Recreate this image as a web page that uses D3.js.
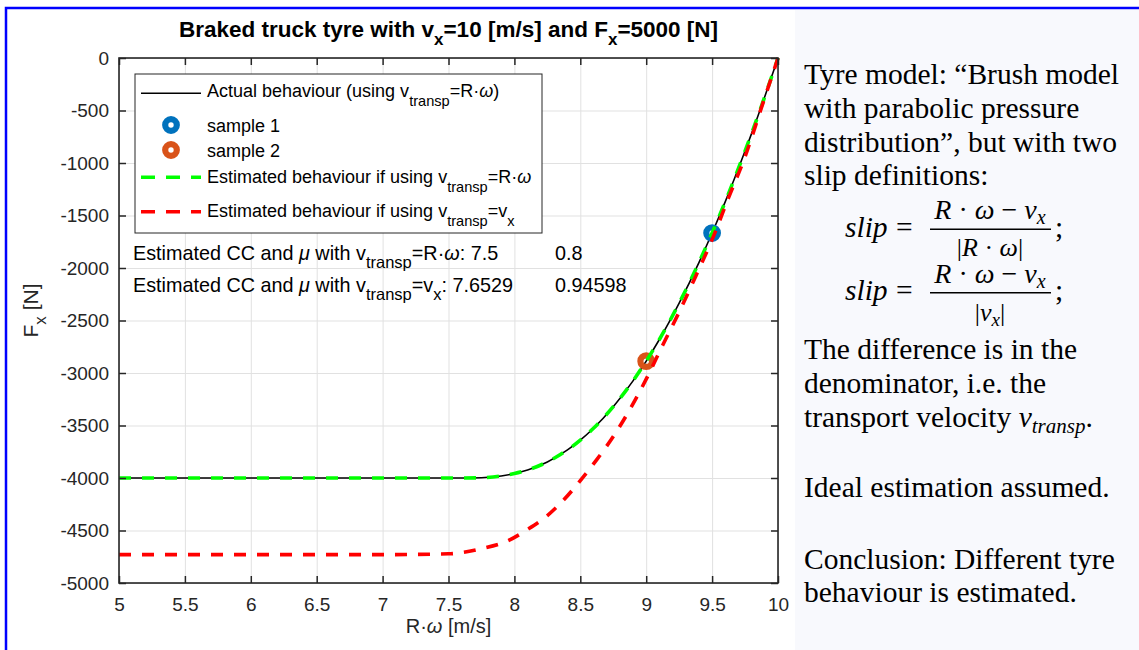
<!DOCTYPE html>
<html>
<head>
<meta charset="utf-8">
<script src="https://cdn.jsdelivr.net/npm/d3@7"></script>
<style>
  body { margin: 0; background: #fff; }
  svg { display: block; }
</style>
</head>
<body>
<div id="chart"></div>
<script>
// ---- data ----
const xTicks = [5, 5.5, 6, 6.5, 7, 7.5, 8, 8.5, 9, 9.5, 10];
const yTicks = [0, -500, -1000, -1500, -2000, -2500, -3000, -3500, -4000, -4500, -5000];

// actual behaviour (and estimate with v_transp = R*omega, which coincides)
const rwActual = [5, 6, 7, 7.5, 7.6, 7.75, 7.9, 8, 8.1, 8.25, 8.4, 8.5, 8.6, 8.75, 8.9, 9, 9.1, 9.25, 9.4, 9.5, 9.6, 9.75, 9.8, 9.9, 10];
const fxActual = [-4000, -4000, -4000, -4000, -4000, -3997, -3981, -3958, -3924, -3847, -3735, -3639, -3526, -3321, -3075, -2887, -2681, -2335, -1948, -1667, -1368, -886, -718, -367, 0];
const fxEstRw  = [-4000, -4000, -4000, -4000, -4000, -3997, -3981, -3958, -3924, -3847, -3735, -3639, -3526, -3321, -3075, -2887, -2681, -2335, -1948, -1667, -1368, -886, -718, -367, 0];

// estimate with v_transp = v_x
const rwEstVx = [5, 6, 7, 7.5, 7.75, 7.95, 8.1, 8.25, 8.375, 8.5, 8.625, 8.75, 8.875, 9, 9.125, 9.25, 9.375, 9.5, 9.625, 9.75, 9.875, 10];
const fxEstVx = [-4730, -4730, -4730, -4722, -4672, -4598, -4490, -4358, -4208, -4025, -3825, -3605, -3350, -3059, -2735, -2420, -2080, -1730, -1330, -940, -470, 0];

const samplesRw = [9.5, 9];
const samplesFx = [-1667, -2887];
const sampleNames = ["sample 1", "sample 2"];
const sampleColors = ["#0072BD", "#D95319"];

const estCC = ["7.5", "7.6529"];
const estMu = ["0.8", "0.94598"];

const W = 1139, H = 650;
const margin = { left: 119, top: 58, right: 778, bottom: 583 };
const sans = "'Liberation Sans', Arial, sans-serif";
const serif = "'Liberation Serif', 'Times New Roman', serif";
const axisColor = "#262626";

const svg = d3.select("#chart").append("svg")
  .attr("width", W)
  .attr("height", H)
  .attr("viewBox", `0 0 ${W} ${H}`)
  .style("background", "#fff");

// write text made of pieces, some of them subscripts / italic
function rich(sel, parts, subSize, subShift) {
  let down = false;
  parts.forEach(p => {
    const piece = typeof p === "string" ? { t: p } : p;
    const ts = sel.append("tspan").text(piece.t);
    if (piece.sub && !down) { ts.attr("dy", subShift); down = true; }
    else if (!piece.sub && down) { ts.attr("dy", -subShift); down = false; }
    if (piece.sub) ts.attr("font-size", subSize);
    if (piece.it) ts.attr("font-style", "italic");
  });
  return sel;
}

// ---- right hand panel ----
svg.append("rect")
  .attr("x", 795).attr("y", 10)
  .attr("width", W - 795).attr("height", H - 10)
  .attr("fill", "#f8f9fd");

// blue frame
svg.append("path")
  .attr("d", `M6,${H} L6,8 L${W},8`)
  .attr("fill", "none")
  .attr("stroke", "#0000ff")
  .attr("stroke-width", 2.5);

// ---- scales ----
const x = d3.scaleLinear().domain([5, 10]).range([margin.left, margin.right]);
const y = d3.scaleLinear().domain([-5000, 0]).range([margin.bottom, margin.top]);
const plotW = margin.right - margin.left;
const plotH = margin.bottom - margin.top;

// grid
const grid = svg.append("g");
grid.append("g")
  .attr("transform", `translate(0,${margin.bottom})`)
  .call(d3.axisBottom(x).tickValues(xTicks).tickSize(-plotH).tickFormat(""))
  .call(g => g.select(".domain").remove())
  .call(g => g.selectAll("line").attr("stroke", "#e1e1e1"));
grid.append("g")
  .attr("transform", `translate(${margin.left},0)`)
  .call(d3.axisLeft(y).tickValues(yTicks).tickSize(-plotW).tickFormat(""))
  .call(g => g.select(".domain").remove())
  .call(g => g.selectAll("line").attr("stroke", "#e1e1e1"));

// ---- curves ----
const line = d3.line()
  .x(d => x(d[0]))
  .y(d => y(d[1]))
  .curve(d3.curveMonotoneX);

const plot = svg.append("g");

plot.append("path")
  .attr("d", line(d3.zip(rwActual, fxActual)))
  .attr("fill", "none")
  .attr("stroke", "#000")
  .attr("stroke-width", 1.6);

plot.selectAll("circle.sample")
  .data(d3.zip(samplesRw, samplesFx, sampleColors))
  .enter()
  .append("circle")
  .attr("class", "sample")
  .attr("cx", d => x(d[0]))
  .attr("cy", d => y(d[1]))
  .attr("r", 5.8)
  .attr("fill", "none")
  .attr("stroke", d => d[2])
  .attr("stroke-width", 6.2);

plot.append("path")
  .attr("d", line(d3.zip(rwActual, fxEstRw)))
  .attr("fill", "none")
  .attr("stroke", "#00ff00")
  .attr("stroke-width", 3.6)
  .attr("stroke-dasharray", "12,11");

plot.append("path")
  .attr("d", line(d3.zip(rwEstVx, fxEstVx)))
  .attr("fill", "none")
  .attr("stroke", "#ff0000")
  .attr("stroke-width", 3.6)
  .attr("stroke-dasharray", "12,11");

// ---- axes ----
const tickLen = 7;
const styleAxis = g => {
  g.select(".domain").remove();
  g.selectAll("line").attr("stroke", axisColor).attr("stroke-width", 1.5);
  g.selectAll("text").attr("fill", axisColor).attr("font-size", 19).attr("font-family", sans);
};
const plainNum = d => String(d);

svg.append("g")
  .attr("transform", `translate(0,${margin.bottom})`)
  .call(d3.axisBottom(x).tickValues(xTicks).tickSize(-tickLen).tickPadding(15).tickFormat(plainNum))
  .call(styleAxis);
svg.append("g")
  .attr("transform", `translate(0,${margin.top})`)
  .call(d3.axisTop(x).tickValues(xTicks).tickSize(-tickLen).tickFormat(""))
  .call(styleAxis);
svg.append("g")
  .attr("transform", `translate(${margin.left},0)`)
  .call(d3.axisLeft(y).tickValues(yTicks).tickSize(-tickLen).tickPadding(10).tickFormat(plainNum))
  .call(styleAxis);
svg.append("g")
  .attr("transform", `translate(${margin.right},0)`)
  .call(d3.axisRight(y).tickValues(yTicks).tickSize(-tickLen).tickFormat(""))
  .call(styleAxis);

svg.append("rect")
  .attr("x", margin.left).attr("y", margin.top)
  .attr("width", plotW).attr("height", plotH)
  .attr("fill", "none")
  .attr("stroke", axisColor)
  .attr("stroke-width", 1.6);

// title
rich(svg.append("text")
  .attr("x", (margin.left + margin.right) / 2)
  .attr("y", 37)
  .attr("text-anchor", "middle")
  .attr("font-family", sans)
  .attr("font-weight", "bold")
  .attr("font-size", 22.5)
  .attr("fill", "#000"),
  ["Braked truck tyre with v", { t: "x", sub: true }, "=10 [m/s] and F", { t: "x", sub: true }, "=5000 [N]"], 17, 8);

// axis labels
rich(svg.append("text")
  .attr("x", (margin.left + margin.right) / 2)
  .attr("y", 633)
  .attr("text-anchor", "middle")
  .attr("font-family", sans)
  .attr("font-size", 20)
  .attr("fill", axisColor),
  ["R·", { t: "ω", it: true }, " [m/s]"], 15, 7);

rich(svg.append("text")
  .attr("transform", `translate(38,${(margin.top + margin.bottom) / 2 - 10}) rotate(-90)`)
  .attr("text-anchor", "middle")
  .attr("font-family", sans)
  .attr("font-size", 21)
  .attr("fill", axisColor),
  ["F", { t: "x", sub: true }, " [N]"], 17, 8);

// ---- legend ----
const legend = svg.append("g");
legend.append("rect")
  .attr("x", 135).attr("y", 74)
  .attr("width", 407).attr("height", 159)
  .attr("fill", "#fff")
  .attr("stroke", axisColor)
  .attr("stroke-width", 1);

const legFont = 18, legSub = 14.6, legShift = 9;
const legItems = [
  { type: "line", color: "#000", dash: null, w: 1.6, y: 93.3, base: 97,
    text: ["Actual behaviour (using v", { t: "transp", sub: true }, "=R·", { t: "ω", it: true }, ")"] },
  { type: "dot", color: sampleColors[0], y: 125, base: 131.5, text: [sampleNames[0]] },
  { type: "dot", color: sampleColors[1], y: 150, base: 156.5, text: [sampleNames[1]] },
  { type: "line", color: "#00ff00", dash: "14,11", w: 3.6, y: 177.3, base: 183.3,
    text: ["Estimated behaviour if using v", { t: "transp", sub: true }, "=R·", { t: "ω", it: true }] },
  { type: "line", color: "#ff0000", dash: "14,11", w: 3.6, y: 211.7, base: 216.7,
    text: ["Estimated behaviour if using v", { t: "transp", sub: true }, "=v", { t: "x", sub: true }] }
];

legItems.forEach(it => {
  if (it.type === "line") {
    legend.append("line")
      .attr("x1", 141).attr("x2", 201)
      .attr("y1", it.y).attr("y2", it.y)
      .attr("stroke", it.color)
      .attr("stroke-width", it.w)
      .attr("stroke-dasharray", it.dash);
  } else {
    legend.append("circle")
      .attr("cx", 171).attr("cy", it.y)
      .attr("r", 5.8)
      .attr("fill", "none")
      .attr("stroke", it.color)
      .attr("stroke-width", 6.2);
  }
  rich(legend.append("text")
    .attr("x", 207).attr("y", it.base)
    .attr("font-family", sans)
    .attr("font-size", legFont)
    .attr("fill", "#000"), it.text, legSub, legShift);
});

// ---- estimation annotations ----
const annoRows = [
  { base: 260, pre: ["Estimated CC and ", { t: "μ", it: true }, " with v", { t: "transp", sub: true }, "=R·", { t: "ω", it: true }, ": " + estCC[0]], mu: estMu[0] },
  { base: 291.5, pre: ["Estimated CC and ", { t: "μ", it: true }, " with v", { t: "transp", sub: true }, "=v", { t: "x", sub: true }, ": " + estCC[1]], mu: estMu[1] }
];
annoRows.forEach(r => {
  rich(svg.append("text")
    .attr("x", 133).attr("y", r.base)
    .attr("font-family", sans)
    .attr("font-size", 19.8)
    .attr("fill", "#000"), r.pre, 16.5, 8);
  svg.append("text")
    .attr("x", 555).attr("y", r.base)
    .attr("font-family", sans)
    .attr("font-size", 19.8)
    .attr("fill", "#000")
    .text(r.mu);
});

// ---- text panel ----
const panel = svg.append("g")
  .attr("font-family", serif)
  .attr("font-size", 29.5)
  .attr("fill", "#000");

const panelLines = [
  { y: 83.5, parts: ["Tyre model: “Brush model"] },
  { y: 117.5, parts: ["with parabolic pressure"] },
  { y: 151.5, parts: ["distribution”, but with two"] },
  { y: 185, parts: ["slip definitions:"] },
  { y: 358.5, parts: ["The difference is in the"] },
  { y: 393, parts: ["denominator, i.e. the"] },
  { y: 427, parts: ["transport velocity ", { t: "v", it: true }, { t: "transp", it: true, sub: true }, "."] },
  { y: 497, parts: ["Ideal estimation assumed."] },
  { y: 568.5, parts: ["Conclusion: Different tyre"] },
  { y: 602, parts: ["behaviour is estimated."] }
];
panelLines.forEach(l => {
  rich(panel.append("text").attr("x", 804).attr("y", l.y), l.parts, 21, 6);
});

// the two slip fractions
const fractions = [
  { slipY: 236.5, numY: 219, barY: 229.3, denY: 256, den: ["|", { t: "R", it: true }, " · ", { t: "ω", it: true }, "|"] },
  { slipY: 300, numY: 283, barY: 292.7, denY: 321, den: ["|", { t: "v", it: true }, { t: "x", it: true, sub: true }, "|"] }
];
fractions.forEach(f => {
  panel.append("text")
    .attr("x", 845).attr("y", f.slipY)
    .attr("font-style", "italic")
    .text("slip");
  panel.append("text")
    .attr("x", 896).attr("y", f.slipY)
    .text("=");
  rich(panel.append("text")
    .attr("x", 990).attr("y", f.numY)
    .attr("font-size", 28)
    .attr("text-anchor", "middle"),
    [{ t: "R", it: true }, " · ", { t: "ω", it: true }, " − ", { t: "v", it: true }, { t: "x", it: true, sub: true }], 20, 5);
  panel.append("line")
    .attr("x1", 930).attr("x2", 1051)
    .attr("y1", f.barY).attr("y2", f.barY)
    .attr("stroke", "#000")
    .attr("stroke-width", 1.4);
  rich(panel.append("text")
    .attr("x", 990).attr("y", f.denY)
    .attr("font-size", 26)
    .attr("text-anchor", "middle"), f.den, 19, 5);
  panel.append("text")
    .attr("x", 1055).attr("y", f.slipY)
    .text(";");
});
</script>
</body>
</html>
